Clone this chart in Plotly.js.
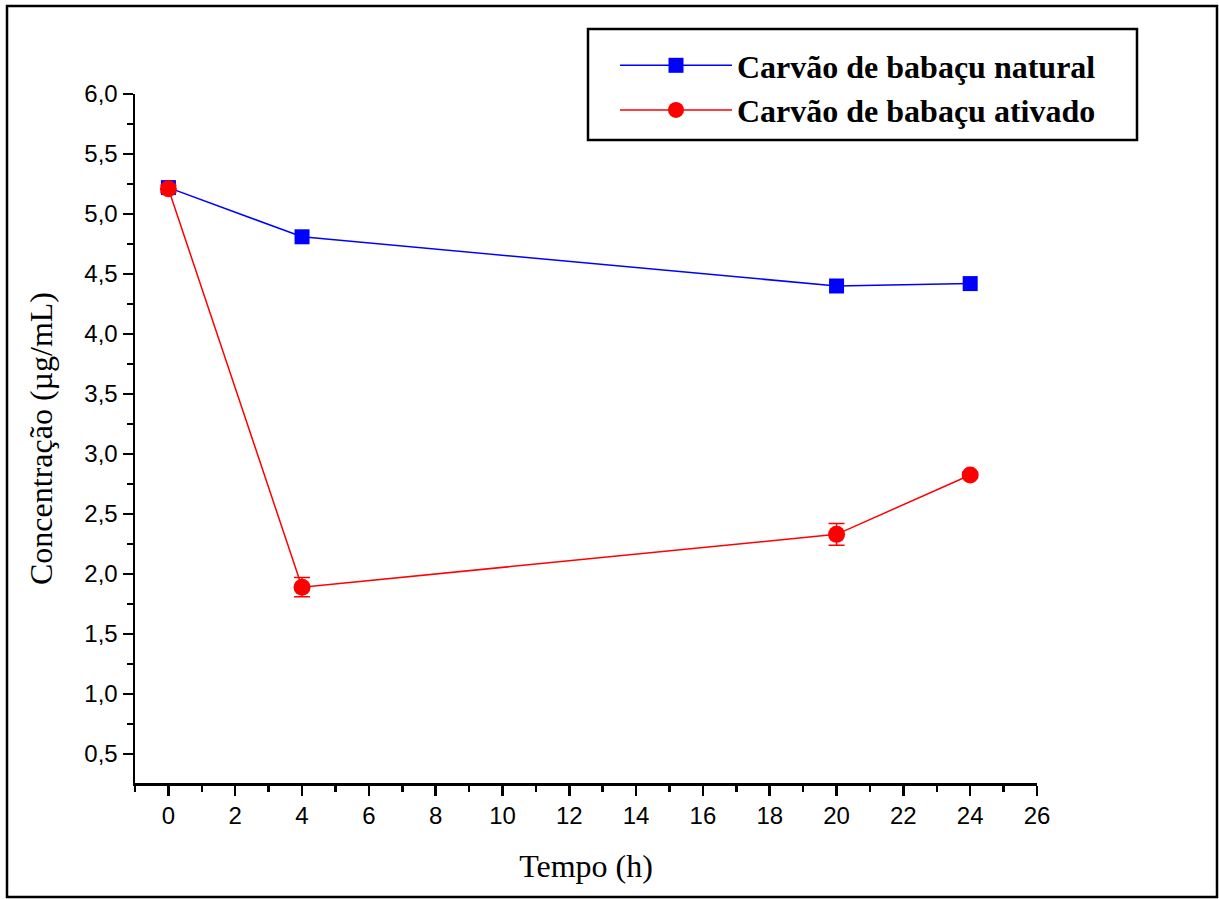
<!DOCTYPE html>
<html>
<head>
<meta charset="utf-8">
<script src="https://cdn.plot.ly/plotly-3.0.1.min.js"></script>
<style>
html,body{margin:0;padding:0;background:#fff;}
#chart{width:1219px;height:899px;}
</style>
</head>
<body>
<div id="chart"></div>
<script>
const tempo = [0, 4, 20, 24];
const natural = [5.22, 4.81, 4.40, 4.42];
const naturalErr = [0.02, 0.02, 0.02, 0.02];
const ativado = [5.21, 1.89, 2.33, 2.825];
const ativadoErr = [0.03, 0.08, 0.09, 0.02];
const seriesNames = ['Carvão de babaçu natural', 'Carvão de babaçu ativado'];
const xTicks = [0, 2, 4, 6, 8, 10, 12, 14, 16, 18, 20, 22, 24, 26];
const yTicks = [0.5, 1.0, 1.5, 2.0, 2.5, 3.0, 3.5, 4.0, 4.5, 5.0, 5.5, 6.0];

const traces = [
  {
    x: tempo, y: natural, name: seriesNames[0], type: 'scatter', mode: 'lines+markers',
    legendgroup: 'a',
    line: {color: '#0000ff', width: 1.5},
    marker: {symbol: 'square', size: 15, color: '#0000ff'},
    error_y: {type: 'data', array: naturalErr, visible: true, color: '#0000ff', thickness: 1.5, width: 7}
  },
  {
    x: tempo, y: ativado, name: seriesNames[1], type: 'scatter', mode: 'lines+markers',
    legendgroup: 'b',
    line: {color: '#ff0000', width: 1.5},
    marker: {symbol: 'circle', size: 17, color: '#ff0000'},
    error_y: {type: 'data', array: ativadoErr, visible: true, color: '#ff0000', thickness: 1.5, width: 8}
  }
];

const axisCommon = {
  showline: true, linecolor: '#000', linewidth: 2.5, mirror: false,
  showgrid: false, zeroline: false,
  ticks: 'outside', ticklen: 10, tickwidth: 2.5, tickcolor: '#000',
  tickfont: {family: 'Arial, Liberation Sans, sans-serif', size: 24, color: '#000'}
};

const W = 902, H = 689, L = 135, T = 94;
const px = v => (v - L) / W;
const py = v => (T + H - v) / H;

const layout = {
  width: 1219, height: 899,
  margin: {l: L, r: 1219 - L - W, t: T, b: 899 - T - H},
  paper_bgcolor: '#fff', plot_bgcolor: '#fff',
  showlegend: true,
  legend: {
    x: px(615), y: py(38), xanchor: 'left', yanchor: 'top',
    borderwidth: 0, bgcolor: 'rgba(0,0,0,0)',
    font: {family: 'Times New Roman, Liberation Serif, serif', size: 32, color: '#000', weight: 'bold'},
    itemwidth: 112, traceorder: 'grouped', tracegroupgap: 0
  },
  xaxis: Object.assign({}, axisCommon, {
    range: [-1, 26], tickvals: xTicks, ticktext: xTicks.map(String),
    minor: {dtick: 1, tick0: 1, ticks: 'outside', ticklen: 6, tickwidth: 2.5, tickcolor: '#000'},
    title: {text: 'Tempo (h)', font: {family: 'Times New Roman, Liberation Serif, serif', size: 32, color: '#000'}, standoff: 27}
  }),
  yaxis: Object.assign({}, axisCommon, {
    range: [0.258, 6.0], tickvals: yTicks, ticktext: yTicks.map(v => v.toFixed(1).replace('.', ',')),
    minor: {dtick: 0.5, tick0: 0.25, ticks: 'outside', ticklen: 6, tickwidth: 2.5, tickcolor: '#000'},
    title: {text: 'Concentração (µg/mL)', font: {family: 'Times New Roman, Liberation Serif, serif', size: 32, color: '#000'}, standoff: 22}
  }),
  shapes: [
    {type: 'rect', xref: 'paper', yref: 'paper',
     x0: px(7), x1: px(1217), y0: py(897), y1: py(6),
     line: {color: '#000', width: 2.5}, fillcolor: 'rgba(0,0,0,0)', layer: 'below'},
    {type: 'rect', xref: 'paper', yref: 'paper',
     x0: px(588), x1: px(1137), y0: py(140), y1: py(29),
     line: {color: '#000', width: 2.5}, fillcolor: '#fff', layer: 'below'}
  ]
};

Plotly.newPlot('chart', traces, layout, {displayModeBar: false, staticPlot: true});
</script>
</body>
</html>
